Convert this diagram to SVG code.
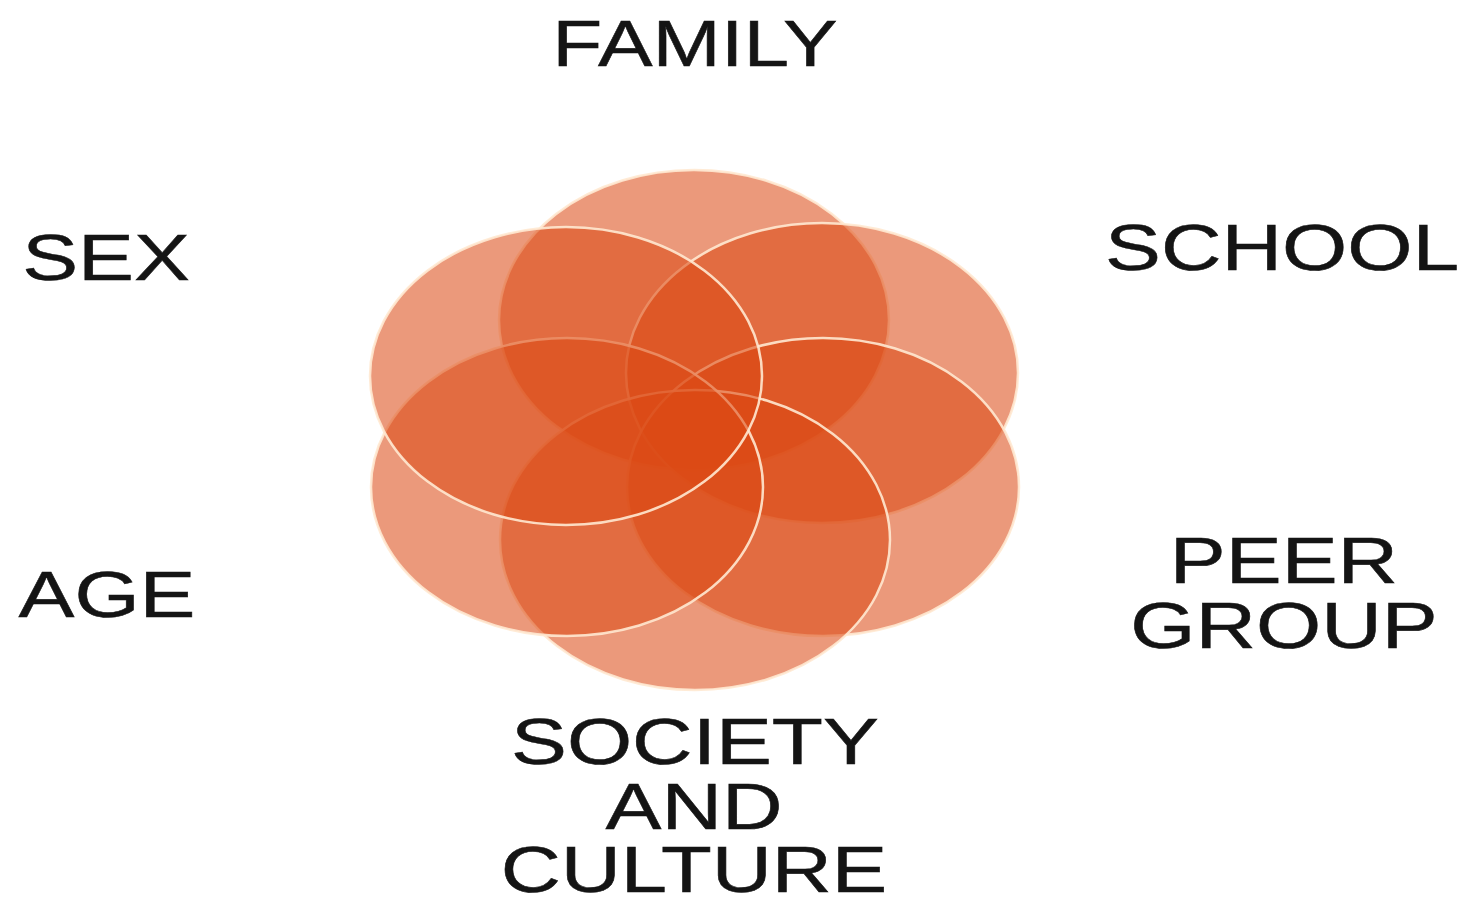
<svg xmlns="http://www.w3.org/2000/svg" width="1469" height="906" viewBox="0 0 1469 906">
<style>
.petal{fill:#dc4a14;fill-opacity:0.56;stroke:#ffe9d2;stroke-width:2.5;stroke-opacity:0.9}
.lbl{font-family:"Liberation Sans",Arial,sans-serif;font-size:64px;fill:#141414;stroke:#141414;stroke-width:0.5;text-anchor:middle}
</style>
<rect width="1469" height="906" fill="#ffffff"/>
<g id="connectors"></g>
<g id="family"><ellipse class="petal" cx="694" cy="320" rx="195" ry="150"/><text class="lbl" transform="translate(695,66) scale(1.28,1)">FAMILY</text></g>
<g id="school"><ellipse class="petal" cx="822" cy="373" rx="196" ry="150"/><text class="lbl" transform="translate(1282,270) scale(1.31,1)">SCHOOL</text></g>
<g id="peer-group"><ellipse class="petal" cx="823" cy="487" rx="196" ry="149"/><text class="lbl" transform="translate(1284,583) scale(1.31,1)">PEER</text><text class="lbl" transform="translate(1284,648) scale(1.31,1)">GROUP</text></g>
<g id="society-culture"><ellipse class="petal" cx="695" cy="540" rx="195" ry="150"/><text class="lbl" transform="translate(695,764) scale(1.31,1)">SOCIETY</text><text class="lbl" transform="translate(694,829) scale(1.31,1)">AND</text><text class="lbl" transform="translate(694,892) scale(1.3,1)">CULTURE</text></g>
<g id="age"><ellipse class="petal" cx="567" cy="487" rx="196" ry="149"/><text class="lbl" transform="translate(107,617) scale(1.31,1)">AGE</text></g>
<g id="sex"><ellipse class="petal" cx="566" cy="376" rx="196" ry="149"/><text class="lbl" transform="translate(106,280) scale(1.31,1)">SEX</text></g>
</svg>
